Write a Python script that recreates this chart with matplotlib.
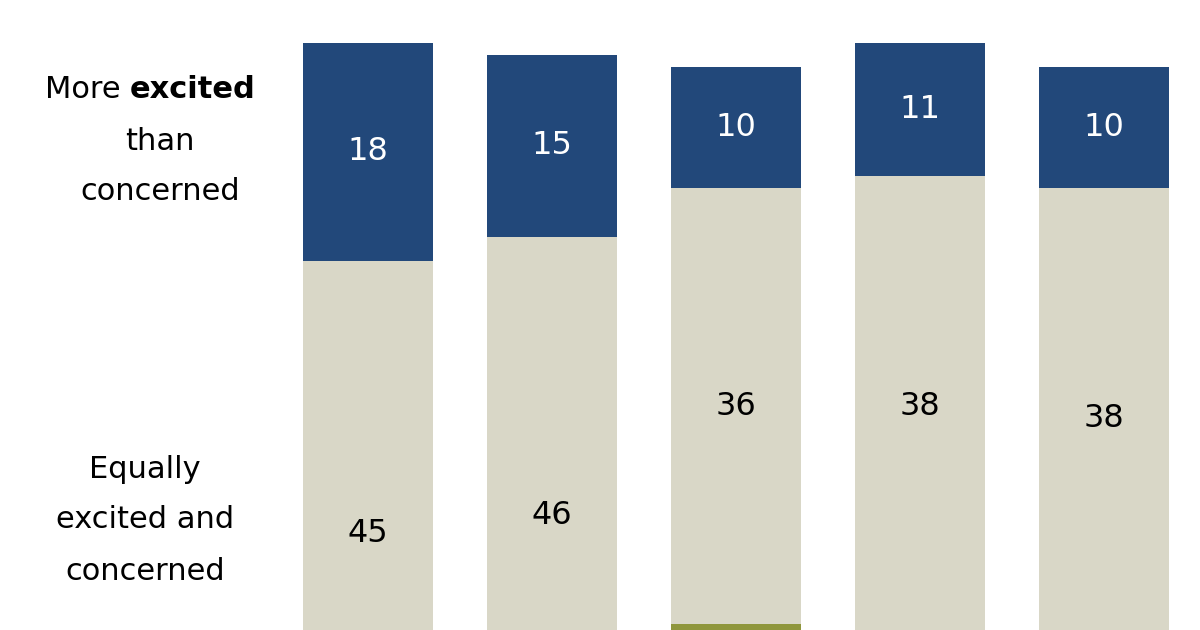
import matplotlib
matplotlib.use("Agg")
import matplotlib.pyplot as plt

years = ["2021", "2022", "2023", "2024", "2025"]
excited = [18, 15, 10, 11, 10]
equal = [45, 46, 36, 38, 38]
concerned = [37, 38, 52, 51, 50]

BLUE = "#22487a"; GRAY = "#d9d7c7"; GREEN = "#8f963c"
plt.rcParams['font.family'] = ['DejaVu Sans']
fig = plt.figure(figsize=(12, 6.3), dpi=100)
ax = fig.add_axes([0, 0, 1, 1])
x = list(range(len(years)))
w = 0.707
ax.bar(x, concerned, w, color=GREEN)
ax.bar(x, equal, w, bottom=concerned, color=GRAY)
b2 = [c + e for c, e in zip(concerned, equal)]
ax.bar(x, excited, w, bottom=b2, color=BLUE)
for i in x:
    ax.text(i, b2[i] + excited[i] / 2, str(excited[i]), ha='center', va='center', color='white', fontsize=23)
    ax.text(i, concerned[i] + equal[i] / 2, str(equal[i]), ha='center', va='center', color='black', fontsize=23)
ax.set_xlim(-2.0, 4.52)
ax.set_ylim(51.5, 103.55)
ax.axis('off')
fs = 22
fig.text(130/1200, 1-90/630, "More ", ha='right', va='center', fontsize=fs)
fig.text(130/1200, 1-90/630, "excited", ha='left', va='center', fontsize=fs, fontweight='bold')
fig.text(160/1200, 1-141/630, "than", ha='center', va='center', fontsize=fs)
fig.text(160/1200, 1-192/630, "concerned", ha='center', va='center', fontsize=fs)
fig.text(145/1200, 1-470/630, "Equally", ha='center', va='center', fontsize=fs)
fig.text(145/1200, 1-520/630, "excited and", ha='center', va='center', fontsize=fs)
fig.text(145/1200, 1-572/630, "concerned", ha='center', va='center', fontsize=fs)
fig.savefig("out.png", dpi=100)
